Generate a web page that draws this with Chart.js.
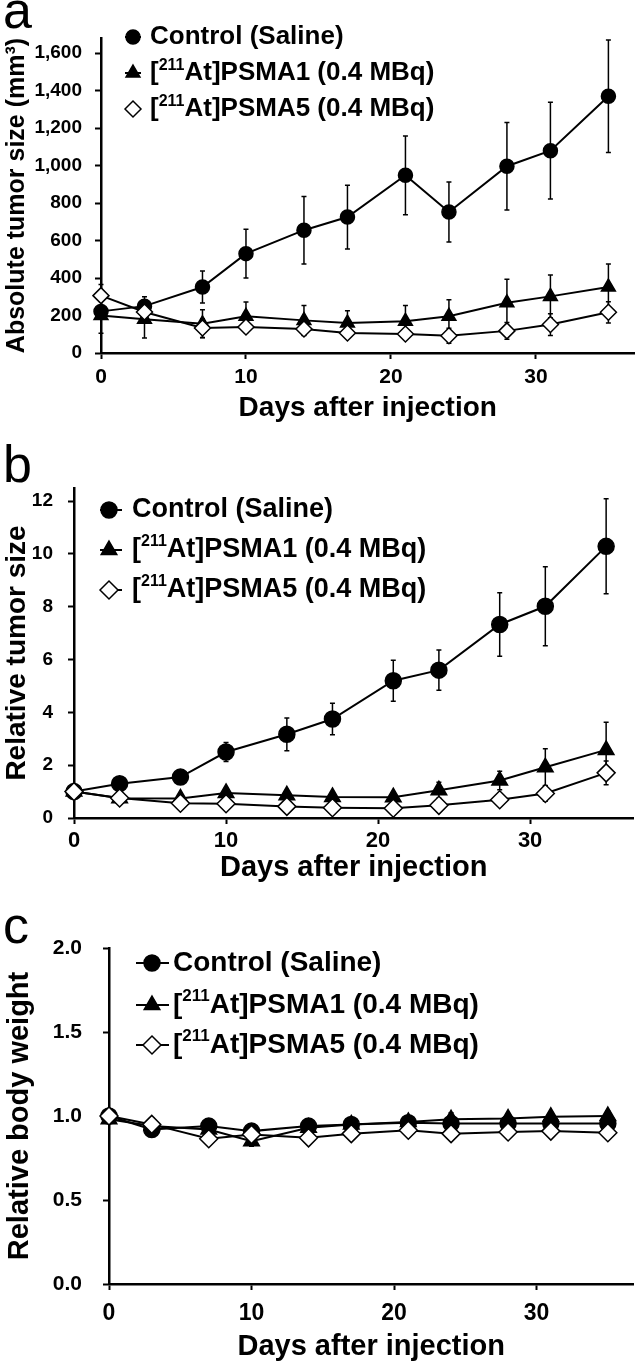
<!DOCTYPE html>
<html>
<head>
<meta charset="utf-8">
<title>Tumor size and body weight</title>
<script src="https://cdn.jsdelivr.net/npm/chart.js@4.4.1/dist/chart.umd.min.js"></script>
<style>
  body { margin: 0; background: #fff; }
  #wrap { position: relative; width: 644px; height: 1367px; overflow: hidden; background: #fff; }
  canvas { position: absolute; left: 0; }
  .tag { position: absolute; left: 3px; font-family: 'Liberation Sans', Arial, sans-serif; font-size: 52px; line-height: 1; color: #000; }
</style>
</head>
<body>
<div id="wrap">
  <canvas id="chartA" width="644" height="450" style="top:0"></canvas>
  <canvas id="chartB" width="644" height="455" style="top:450px"></canvas>
  <canvas id="chartC" width="644" height="462" style="top:905px"></canvas>
  <div class="tag" style="top:-16px">a</div>
  <div class="tag" style="top:438px">b</div>
  <div class="tag" style="top:899px">c</div>
</div>
<script>
// days after injection
const days = [0, 3, 7, 10, 14, 17, 21, 24, 28, 31, 35];
const seriesNames = ['Control (Saline)', '[²¹¹At]PSMA1 (0.4 MBq)', '[²¹¹At]PSMA5 (0.4 MBq)'];
const dayTicks = [0, 10, 20, 30];

// a - absolute tumor size (mm3), mean and SD
const absControl = [222, 250, 352, 530, 655, 725, 948, 752, 996, 1079, 1369];
const absControlErr = [20, 50, 85, 130, 180, 170, 210, 160, 233, 258, 300];
const absPsma1 = [200, 180, 156, 196, 174, 160, 169, 196, 268, 302, 352];
const absPsma1Err = [95, 100, 75, 76, 80, 66, 85, 88, 125, 114, 123];
const absPsma5 = [306, 219, 133, 139, 128, 107, 101, 92, 118, 152, 217];
const absPsma5Err = [60, 30, 50, 30, 30, 25, 25, 40, 45, 58, 57];
const absTicks = [0, 200, 400, 600, 800, 1000, 1200, 1400, 1600];

// b - relative tumor size
const relControl = [1.0, 1.30, 1.55, 2.50, 3.17, 3.75, 5.20, 5.60, 7.33, 8.02, 10.29];
const relControlErr = [0.05, 0.1, 0.12, 0.36, 0.62, 0.6, 0.78, 0.76, 1.2, 1.5, 1.8];
const relPsma1 = [1.0, 0.75, 0.74, 0.95, 0.86, 0.80, 0.79, 1.05, 1.42, 1.92, 2.58];
const relPsma1Err = [0.05, 0.1, 0.1, 0.1, 0.1, 0.08, 0.08, 0.3, 0.35, 0.7, 1.05];
const relPsma5 = [1.0, 0.76, 0.56, 0.54, 0.44, 0.39, 0.37, 0.48, 0.69, 0.93, 1.71];
const relPsma5Err = [0.05, 0.08, 0.08, 0.08, 0.06, 0.05, 0.05, 0.08, 0.1, 0.3, 0.45];
const relTicks = [0, 2, 4, 6, 8, 10, 12];

// c - relative body weight
const bwControl = [1.00, 0.92, 0.94, 0.91, 0.94, 0.95, 0.96, 0.955, 0.955, 0.955, 0.955];
const bwControlErr = [0.01, 0.02, 0.02, 0.02, 0.02, 0.03, 0.02, 0.02, 0.02, 0.02, 0.02];
const bwPsma1 = [0.98, 0.94, 0.92, 0.85, 0.93, 0.95, 0.965, 0.98, 0.985, 0.995, 1.0];
const bwPsma1Err = [0.01, 0.03, 0.02, 0.03, 0.02, 0.03, 0.02, 0.04, 0.02, 0.02, 0.03];
const bwPsma5 = [1.00, 0.95, 0.865, 0.89, 0.87, 0.895, 0.915, 0.895, 0.905, 0.91, 0.90];
const bwPsma5Err = [0.01, 0.04, 0.02, 0.02, 0.02, 0.02, 0.02, 0.02, 0.02, 0.02, 0.02];
const bwTicks = [0, 0.5, 1.0, 1.5, 2.0];

const FONT = "'Liberation Sans', Arial, sans-serif";
Chart.defaults.font.family = FONT;
Chart.defaults.color = '#000';

// vertical SD bars, drawn under the markers
const errorBars = {
  id: 'errorBars',
  beforeDatasetsDraw(chart) {
    const ctx = chart.ctx;
    const y = chart.scales.y;
    ctx.save();
    ctx.strokeStyle = '#000';
    ctx.lineWidth = 1.5;
    chart.data.datasets.forEach((ds, di) => {
      const meta = chart.getDatasetMeta(di);
      meta.data.forEach((pt, i) => {
        const v = ds.data[i].y, e = ds.errors[i];
        const yt = y.getPixelForValue(v + e), yb = y.getPixelForValue(v - e);
        ctx.beginPath();
        ctx.moveTo(pt.x, yt); ctx.lineTo(pt.x, yb);
        ctx.moveTo(pt.x - 2.5, yt); ctx.lineTo(pt.x + 2.5, yt);
        ctx.moveTo(pt.x - 2.5, yb); ctx.lineTo(pt.x + 2.5, yb);
        ctx.stroke();
      });
    });
    ctx.restore();
  }
};

// draw a label, setting superscript digits (¹²³) smaller and raised
const SUP = { '¹': '1', '²': '2', '³': '3' };
function drawRich(ctx, text, x, y, size) {
  let runs = [];
  for (const ch of text) {
    const sup = ch in SUP;
    const last = runs[runs.length - 1];
    if (last && last.sup === sup) last.t += sup ? SUP[ch] : ch;
    else runs.push({ sup: sup, t: sup ? SUP[ch] : ch });
  }
  runs.forEach(r => {
    const s = r.sup ? Math.round(size * 0.6) : size;
    ctx.font = 'bold ' + s + 'px ' + FONT;
    ctx.fillText(r.t, x, r.sup ? y - size * 0.3 : y);
    x += ctx.measureText(r.t).width;
  });
}

// legend inside the plot: short line + marker + label
const seriesKey = {
  id: 'seriesKey',
  afterDraw(chart, args, opts) {
    if (!opts.rows) return;
    const ctx = chart.ctx;
    ctx.save();
    chart.data.datasets.forEach((ds, i) => {
      const y = opts.rows[i];
      ctx.strokeStyle = '#000';
      ctx.lineWidth = 2;
      ctx.beginPath();
      ctx.moveTo(opts.line[0], y);
      ctx.lineTo(opts.line[1], y);
      ctx.stroke();
      ctx.fillStyle = ds.pointBackgroundColor;
      ctx.lineWidth = ds.pointBorderWidth;
      Chart.helpers.drawPoint(ctx, {
        pointStyle: ds.pointStyle, radius: ds.pointRadius,
        borderWidth: ds.pointBorderWidth, rotation: 0
      }, opts.marker, y);
      ctx.fillStyle = '#000';
      ctx.textBaseline = 'middle';
      drawRich(ctx, ds.label, opts.text, y, opts.size);
    });
    ctx.restore();
  }
};

Chart.register(errorBars, seriesKey);

function series(label, values, errors, style, fill, r, order) {
  return {
    label: label,
    data: days.map((d, i) => ({ x: d, y: values[i] })),
    errors: errors,
    borderColor: '#000',
    borderWidth: 2,
    pointStyle: style,
    pointRadius: r,
    pointBackgroundColor: fill,
    pointBorderColor: '#000',
    pointBorderWidth: 1.5,
    order: order,
    clip: false
  };
}

function panel(id, p) {
  return new Chart(document.getElementById(id), {
    type: 'line',
    data: {
      datasets: [
        series(seriesNames[0], p.values[0], p.errors[0], 'circle', '#000', p.r, 2),
        series(seriesNames[1], p.values[1], p.errors[1], 'triangle', '#000', p.r + 1, 1),
        series(seriesNames[2], p.values[2], p.errors[2], 'rectRot', '#fff', p.r + 1, 0)
      ]
    },
    options: {
      responsive: false,
      animation: false,
      devicePixelRatio: 1,
      layout: { padding: { top: p.top, right: p.right, left: 0, bottom: 0 } },
      plugins: {
        legend: { display: false },
        tooltip: { enabled: false },
        seriesKey: p.key
      },
      scales: {
        x: {
          type: 'linear',
          min: 0,
          max: 36.8,
          afterBuildTicks: s => { s.ticks = dayTicks.map(v => ({ value: v })); },
          afterFit: s => { s.height = p.xHeight; },
          border: { color: '#000', width: 2.5 },
          grid: { drawOnChartArea: false, tickLength: 6, tickColor: '#000', tickWidth: 2 },
          ticks: { font: { size: p.xTickSize, weight: 'bold' }, color: '#000', padding: p.xTickPad, maxRotation: 0 },
          title: {
            display: true, text: 'Days after injection', color: '#000',
            font: { size: p.xTitleSize, weight: 'bold' }, padding: { top: 0, bottom: p.xTitlePad }
          }
        },
        y: {
          min: 0,
          max: p.yMax,
          afterBuildTicks: s => { s.ticks = p.yTicks.map(v => ({ value: v })); },
          afterFit: s => { s.width = p.yWidth; },
          border: { color: '#000', width: 2.5 },
          grid: { drawOnChartArea: false, tickLength: 6, tickColor: '#000', tickWidth: 2 },
          ticks: { font: { size: p.yTickSize, weight: 'bold' }, color: '#000', padding: p.yTickPad, callback: p.fmt },
          title: {
            display: true, text: p.yTitle, color: '#000',
            font: { size: p.yTitleSize, weight: 'bold' }, padding: { top: p.yTitlePad, bottom: 0 }
          }
        }
      }
    }
  });
}

panel('chartA', {
  values: [absControl, absPsma1, absPsma5],
  errors: [absControlErr, absPsma1Err, absPsma5Err],
  r: 7, top: 38, right: 4, xHeight: 97, yWidth: 101,
  yMax: 1680, yTicks: absTicks, fmt: v => v.toLocaleString('en-US'),
  xTickSize: 21, xTickPad: 6, xTitleSize: 28, xTitlePad: 25,
  yTickSize: 19, yTickPad: 13, yTitleSize: 25, yTitlePad: 2,
  yTitle: 'Absolute tumor size (mm³)',
  key: { rows: [37, 73, 109], line: [125, 141], marker: 133, text: 150, size: 26 }
});

panel('chartB', {
  values: [relControl, relPsma1, relPsma5],
  errors: [relControlErr, relPsma1Err, relPsma5Err],
  r: 8, top: 38, right: 2, xHeight: 87, yWidth: 74,
  yMax: 12.5, yTicks: relTicks, fmt: v => String(v),
  xTickSize: 22, xTickPad: 4, xTitleSize: 29, xTitlePad: 20,
  yTickSize: 19, yTickPad: 15, yTitleSize: 28, yTitlePad: 0,
  yTitle: 'Relative tumor size',
  key: { rows: [60, 100, 140], line: [100, 122], marker: 109, text: 132, size: 27 }
});

panel('chartC', {
  values: [bwControl, bwPsma1, bwPsma5],
  errors: [bwControlErr, bwPsma1Err, bwPsma5Err],
  r: 8, top: 43, right: 2, xHeight: 83, yWidth: 109,
  yMax: 2.0, yTicks: bwTicks, fmt: v => v.toFixed(1),
  xTickSize: 23, xTickPad: 10, xTitleSize: 29, xTitlePad: 3,
  yTickSize: 21, yTickPad: 21, yTitleSize: 29, yTitlePad: 3,
  yTitle: 'Relative body weight',
  key: { rows: [58, 100, 140], line: [136, 169], marker: 152, text: 173, size: 28 }
});
</script>
</body>
</html>
